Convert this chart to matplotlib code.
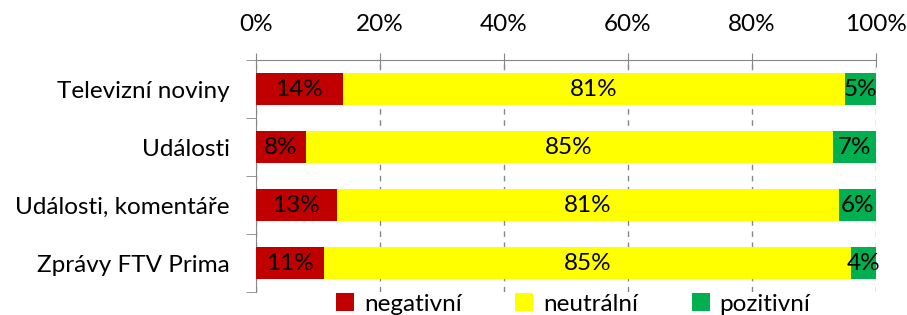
import matplotlib.pyplot as plt
import numpy as np

plt.rcParams['font.family'] = ['Lato', 'DejaVu Sans']

categories = ['Televizní noviny', 'Události', 'Události, komentáře', 'Zprávy FTV Prima']
negativni = [14, 8, 13, 11]
neutralni = [81, 85, 81, 85]
pozitivni = [5, 7, 6, 4]
series_names = ['negativní', 'neutrální', 'pozitivní']
colors = ['#C00000', '#FFFF00', '#00B050']
xticks = [0, 20, 40, 60, 80, 100]

fs = 17.5

fig = plt.figure(figsize=(9.07, 3.15), dpi=100)
ax = fig.add_axes([256 / 907, 1 - 292 / 315, 620 / 907, 232 / 315])

y = np.arange(len(categories))
left = np.zeros(len(categories))
for vals, name, col in zip([negativni, neutralni, pozitivni], series_names, colors):
    bars = ax.barh(y, vals, left=left, height=0.56, color=col, label=name, zorder=3)
    ax.bar_label(bars, labels=[f'{v}%' for v in vals], label_type='center',
                 fontsize=fs, color='black')
    left += np.array(vals)

ax.set_xlim(0, 100)
ax.set_ylim(3.5, -0.5)
ax.set_xticks(xticks)
ax.set_xticklabels([f'{t}%' for t in xticks], fontsize=fs)
ax.xaxis.tick_top()
ax.tick_params(axis='x', direction='inout', length=10, color='#868686', pad=13)
ax.grid(axis='x', color='#868686', linestyle=(0, (4, 4)), linewidth=1, zorder=0)

ax.set_yticks(y)
ax.set_yticklabels(categories, fontsize=fs)
ax.set_yticks(np.arange(-0.5, len(categories), 1), minor=True)
ax.tick_params(axis='y', which='major', length=0, pad=19)
ax.tick_params(axis='y', which='minor', length=7, color='#868686', direction='out')

for s in ['right', 'bottom']:
    ax.spines[s].set_visible(False)
ax.spines['top'].set_color('#868686')
ax.spines['left'].set_color('#868686')

fig.legend(loc='center', bbox_to_anchor=(0.632, 0.035), ncol=3, frameon=False,
           fontsize=fs, handlelength=0.75, handleheight=0.75, columnspacing=2.2,
           handletextpad=0.4)

plt.savefig('out.png', dpi=100)
